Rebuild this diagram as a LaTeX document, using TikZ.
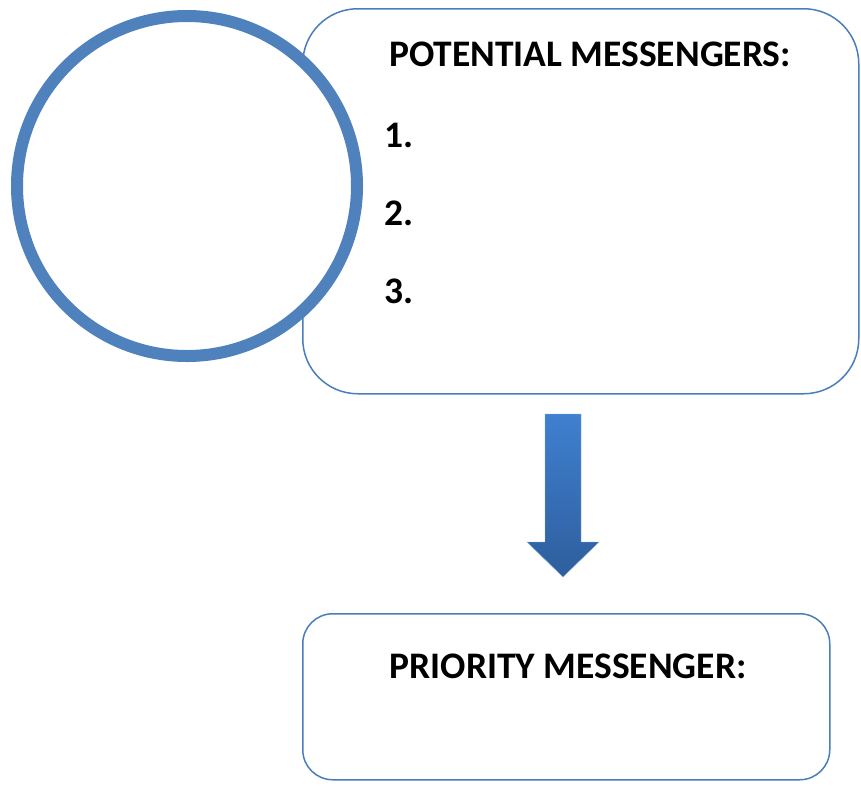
\documentclass[tikz,border=0pt]{standalone}
\usepackage{fontspec}
\setmainfont{Carlito}
\usetikzlibrary{positioning}
\definecolor{ringblue}{HTML}{4F81BD}
\definecolor{edgeblue}{HTML}{4A7EBB}
\definecolor{arrowtop}{HTML}{3F80D0}
\definecolor{arrowbot}{HTML}{2E5E9C}
\tikzset{
sheet/.style={
    x=1pt,
    y=-1pt,
    every node/.style={font=\fontsize{37.5}{44}\selectfont\bfseries}
},
panel/.style={
    draw=edgeblue,
    line width=1.5pt,
    fill=white,
    anchor=north west,
    inner sep=0pt
},
ring/.style={
    circle,
    draw=ringblue,
    line width=12pt,
    fill=white,
    minimum size=340pt,
    inner sep=0pt
},
heading/.style={
    anchor=center,
    inner sep=0pt
},
item/.style={
    anchor=west,
    inner sep=0pt
},
flow/.style={
    top color=arrowtop,
    bottom color=arrowbot,
    draw=arrowtop!60!white,
    line width=0.4pt
}}

\begin{document}
\begin{tikzpicture}[sheet]
\useasboundingbox (0,0) rectangle (861,785);
\node[panel, rounded corners=55pt, minimum width=556pt, minimum height=385pt] (list) at (302,8) {};
\node[ring] (face) at (187,186) {};
\node[heading] (listhead) at (590,54) {POTENTIAL MESSENGERS:};
\node[item] (one)   at (384,135) {1.};
\node[item] (two)   at (384,213) {2.};
\node[item] (three) at (384,291) {3.};

\node[panel, rounded corners=30pt, minimum width=527pt, minimum height=166pt] (choice) at (302,613) {};
\node[heading] (choicehead) at (568,666) {PRIORITY MESSENGER:};

% block arrow between the panels
\path[flow] (545,414) -- (581,414) -- (581,542) -- (599,542) -- (563,577)
    -- (527,542) -- (545,542) -- cycle;
\end{tikzpicture}
\end{document}
